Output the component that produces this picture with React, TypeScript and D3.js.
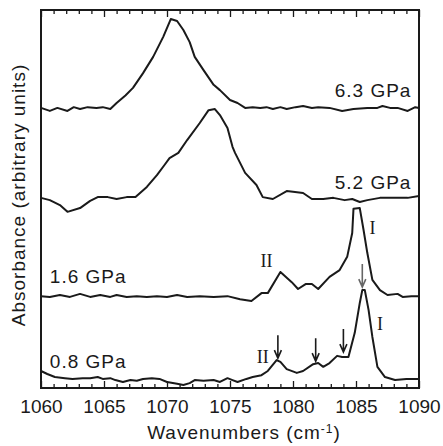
import React, { useRef, useEffect } from "react";
import * as d3 from "d3";

// spectra: wavenumber (cm-1) and absorbance (arbitrary units, stacked)
const wn63 = [1060.0, 1060.7, 1061.3, 1062.1, 1062.6, 1063.1, 1063.7, 1064.4, 1064.9, 1065.5, 1066.0, 1066.7, 1067.3, 1068.1, 1068.9, 1069.7, 1070.3, 1070.8, 1071.3, 1071.8, 1072.2, 1072.9, 1073.7, 1074.2, 1075.0, 1075.6, 1076.2, 1076.8, 1077.4, 1077.9, 1078.4, 1079.0, 1079.5, 1080.2, 1080.8, 1081.5, 1082.0, 1082.9, 1083.9, 1084.8, 1085.9, 1086.7, 1087.1, 1087.7, 1088.3, 1089.1, 1089.7, 1090.0];
const abs63 = [7.41, 7.33, 7.41, 7.33, 7.43, 7.38, 7.43, 7.41, 7.43, 7.38, 7.54, 7.74, 7.94, 8.33, 8.76, 9.29, 9.76, 9.71, 9.47, 9.15, 8.76, 8.41, 8.02, 7.88, 7.62, 7.54, 7.41, 7.43, 7.41, 7.43, 7.38, 7.43, 7.38, 7.43, 7.46, 7.41, 7.43, 7.41, 7.33, 7.38, 7.41, 7.41, 7.46, 7.41, 7.41, 7.33, 7.43, 7.41];

const wn52 = [1060.0, 1060.7, 1061.5, 1062.1, 1063.1, 1063.9, 1064.5, 1065.3, 1066.0, 1066.8, 1067.5, 1068.4, 1069.2, 1069.8, 1070.2, 1070.9, 1071.6, 1072.6, 1073.3, 1073.8, 1074.2, 1074.8, 1075.2, 1075.4, 1076.2, 1077.1, 1077.6, 1078.4, 1079.5, 1080.0, 1080.8, 1081.5, 1082.4, 1083.2, 1084.1, 1084.7, 1085.3, 1085.9, 1086.9, 1087.9, 1089.1, 1090.0];
const abs52 = [5.03, 4.97, 4.84, 4.66, 4.76, 4.95, 5.05, 5.05, 5.0, 5.05, 5.05, 5.32, 5.63, 5.9, 6.08, 6.22, 6.56, 7.01, 7.35, 7.38, 7.22, 6.88, 6.38, 6.22, 5.69, 5.37, 5.05, 5.0, 5.21, 5.19, 5.16, 5.0, 5.0, 5.03, 4.97, 5.0, 4.92, 4.97, 5.03, 5.03, 5.03, 5.08];

const wn16 = [1060.0, 1060.7, 1061.5, 1062.3, 1063.1, 1063.9, 1064.7, 1065.5, 1066.0, 1066.8, 1067.6, 1068.4, 1069.2, 1070.0, 1070.8, 1071.6, 1072.6, 1073.7, 1074.8, 1075.8, 1076.7, 1077.5, 1078.0, 1079.0, 1079.9, 1080.4, 1081.0, 1081.5, 1082.0, 1082.9, 1083.7, 1084.3, 1084.7, 1084.8, 1085.3, 1085.6, 1085.9, 1086.3, 1086.9, 1087.5, 1088.3, 1088.7, 1089.4, 1090.0];
const abs16 = [2.43, 2.41, 2.46, 2.41, 2.49, 2.41, 2.46, 2.41, 2.46, 2.41, 2.43, 2.41, 2.43, 2.41, 2.46, 2.41, 2.43, 2.41, 2.43, 2.35, 2.3, 2.51, 2.51, 3.07, 2.8, 2.62, 2.75, 2.75, 2.62, 2.94, 3.12, 3.47, 4.1, 4.74, 4.76, 4.18, 3.57, 2.86, 2.59, 2.46, 2.49, 2.41, 2.43, 2.43];

const wn08 = [1060.0, 1060.5, 1061.1, 1061.9, 1062.5, 1063.3, 1063.9, 1064.5, 1064.9, 1065.5, 1065.9, 1066.5, 1067.1, 1067.6, 1068.1, 1068.8, 1069.4, 1070.0, 1070.8, 1071.3, 1071.8, 1072.2, 1072.9, 1073.7, 1074.2, 1074.8, 1075.2, 1075.6, 1076.3, 1076.8, 1077.5, 1078.0, 1078.7, 1079.0, 1079.5, 1080.3, 1080.8, 1081.6, 1082.0, 1082.4, 1082.9, 1083.5, 1083.9, 1084.4, 1084.9, 1085.3, 1085.5, 1085.7, 1086.0, 1086.3, 1086.7, 1087.3, 1088.1, 1089.0, 1090.0];
const abs08 = [0.45, 0.37, 0.29, 0.26, 0.24, 0.26, 0.26, 0.29, 0.24, 0.26, 0.21, 0.16, 0.21, 0.19, 0.24, 0.26, 0.24, 0.16, 0.11, 0.08, 0.13, 0.21, 0.19, 0.21, 0.16, 0.26, 0.21, 0.16, 0.24, 0.29, 0.34, 0.45, 0.74, 0.69, 0.5, 0.4, 0.45, 0.63, 0.66, 0.56, 0.66, 0.85, 0.82, 0.82, 1.46, 2.25, 2.59, 2.59, 2.06, 1.35, 0.56, 0.29, 0.21, 0.24, 0.24];

const pressureLabels = ["6.3 GPa", "5.2 GPa", "1.6 GPa", "0.8 GPa"];
const bandLabels = ["I", "I", "II", "II"];
// arrows marking bands: wavenumber and absorbance of the tip
const arrowWn = [1078.8, 1081.8, 1084.0, 1085.5];
const arrowTip = [0.79, 0.71, 0.95, 2.67];
const xTicks = [1060, 1065, 1070, 1075, 1080, 1085, 1090];

const W = 443;
const H = 446;

const App = () => {
  const svgRef = useRef(null);

  useEffect(() => {
    const margin = { top: 10, right: 24, bottom: 58, left: 41 };
    const plotW = W - margin.left - margin.right;
    const plotH = H - margin.top - margin.bottom;
    const ink = "#1a1a1a";
    const sans = "'Liberation Sans', Arial, Helvetica, sans-serif";
    const serif = "'Liberation Serif', 'Times New Roman', serif";

    const svg = d3.select(svgRef.current);
    svg.selectAll("*").remove();

    const x = d3.scaleLinear().domain([1060, 1090]).range([0, plotW]);
    const y = d3.scaleLinear().domain([0, 10]).range([plotH, 0]);

    const g = svg.append("g").attr("transform", `translate(${margin.left}, ${margin.top})`);

    // minor ticks (inward, top and bottom)
    const minor = d3.range(1060, 1091, 1).filter((v) => v % 5 !== 0);
    g.append("g")
      .attr("transform", `translate(0, ${plotH})`)
      .call(d3.axisBottom(x).tickValues(minor).tickSize(-4).tickFormat(() => ""))
      .call((a) => a.select(".domain").remove());
    g.append("g")
      .call(d3.axisTop(x).tickValues(minor).tickSize(-4).tickFormat(() => ""))
      .call((a) => a.select(".domain").remove());

    // major ticks with labels
    const bottomAxis = g.append("g")
      .attr("transform", `translate(0, ${plotH})`)
      .call(d3.axisBottom(x).tickValues(xTicks).tickSize(-7).tickPadding(12).tickFormat(d3.format("d")));
    bottomAxis.select(".domain").remove();
    bottomAxis.selectAll("text")
      .attr("font-family", sans)
      .attr("font-size", 19)
      .attr("fill", ink);
    g.append("g")
      .call(d3.axisTop(x).tickValues(xTicks).tickSize(-7).tickFormat(() => ""))
      .call((a) => a.select(".domain").remove());

    g.selectAll(".tick line").attr("stroke", ink).attr("stroke-width", 1.3);

    // frame
    g.append("rect")
      .attr("width", plotW)
      .attr("height", plotH)
      .attr("fill", "none")
      .attr("stroke", ink)
      .attr("stroke-width", 2);

    // spectra
    const line = d3.line().x((d) => x(d[0])).y((d) => y(d[1]));
    const spectra = [
      [wn63, abs63],
      [wn52, abs52],
      [wn16, abs16],
      [wn08, abs08],
    ];
    spectra.forEach(([wn, ab]) => {
      g.append("path")
        .datum(wn.map((w, i) => [w, ab[i]]))
        .attr("d", line)
        .attr("fill", "none")
        .attr("stroke", ink)
        .attr("stroke-width", 2)
        .attr("stroke-linejoin", "round");
    });

    // pressure labels
    const labelPos = [
      { w: 1089.4, a: 7.7, anchor: "end" },
      { w: 1089.4, a: 5.26, anchor: "end" },
      { w: 1060.7, a: 2.78, anchor: "start" },
      { w: 1060.7, a: 0.53, anchor: "start" },
    ];
    pressureLabels.forEach((t, i) => {
      g.append("text")
        .attr("x", x(labelPos[i].w))
        .attr("y", y(labelPos[i].a))
        .attr("text-anchor", labelPos[i].anchor)
        .attr("font-family", sans)
        .attr("font-size", 19)
        .attr("letter-spacing", 1)
        .attr("fill", ink)
        .text(t);
    });

    // band labels I / II
    const bandPos = [
      { w: 1086.3, a: 4.07 },
      { w: 1086.9, a: 1.53 },
      { w: 1077.9, a: 3.2 },
      { w: 1077.6, a: 0.66 },
    ];
    bandLabels.forEach((t, i) => {
      g.append("text")
        .attr("x", x(bandPos[i].w))
        .attr("y", y(bandPos[i].a))
        .attr("text-anchor", "middle")
        .attr("font-family", serif)
        .attr("font-size", 18)
        .attr("fill", ink)
        .text(t);
    });

    // arrows
    arrowWn.forEach((w, i) => {
      const ax = x(w);
      const tip = y(arrowTip[i]);
      const col = i === 3 ? "#666" : ink;
      g.append("path")
        .attr("d", `M${ax},${tip - 23}L${ax},${tip}M${ax - 3.5},${tip - 8}L${ax},${tip}L${ax + 3.5},${tip - 8}`)
        .attr("fill", "none")
        .attr("stroke", col)
        .attr("stroke-width", 1.6);
    });

    // axis titles
    const xt = svg.append("text")
      .attr("x", 244)
      .attr("y", margin.top + plotH + 51)
      .attr("text-anchor", "middle")
      .attr("font-family", sans)
      .attr("font-size", 19)
      .attr("letter-spacing", 1)
      .attr("fill", ink);
    xt.append("tspan").text("Wavenumbers (cm");
    xt.append("tspan").attr("font-size", 12).attr("dy", -6).text("-1");
    xt.append("tspan").attr("dy", 6).text(")");

    svg.append("text")
      .attr("transform", `translate(25, ${margin.top + plotH / 2 - 4}) rotate(-90)`)
      .attr("text-anchor", "middle")
      .attr("font-family", sans)
      .attr("font-size", 19)
      .attr("letter-spacing", 1)
      .attr("fill", ink)
      .text("Absorbance (arbitrary units)");
  }, []);

  return (
    <svg
      ref={svgRef}
      width={W}
      height={H}
      style={{ position: "absolute", left: 0, top: 0, background: "#fff" }}
    ></svg>
  );
};

export default App;
